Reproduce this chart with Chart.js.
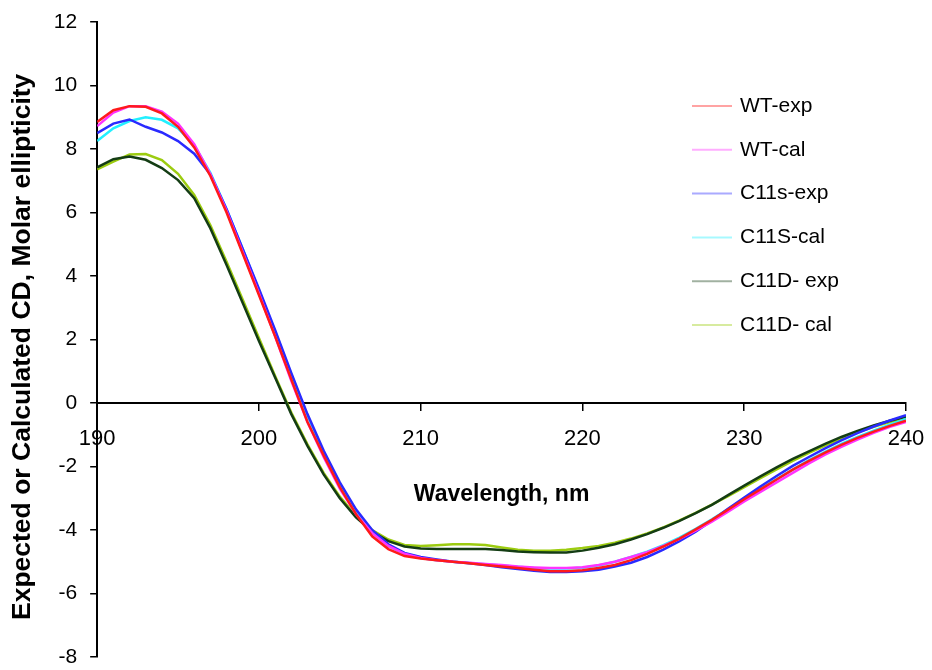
<!DOCTYPE html>
<html>
<head>
<meta charset="utf-8">
<script src="https://cdn.jsdelivr.net/npm/chart.js@4.4.1/dist/chart.umd.min.js"></script>
<style>
  html, body { margin: 0; padding: 0; background: #ffffff; }
  #wrap { width: 932px; height: 670px; position: relative; }
</style>
</head>
<body>
<div id="wrap"><canvas id="c" width="932" height="670"></canvas></div>
<script>
const wavelengths = [190,191,192,193,194,195,196,197,198,199,200,201,202,203,204,205,206,207,208,209,210,211,212,213,214,215,216,217,218,219,220,221,222,223,224,225,226,227,228,229,230,231,232,233,234,235,236,237,238,239,240];

const seriesNames = ["WT-exp", "WT-cal", "C11s-exp", "C11S-cal", "C11D- exp", "C11D- cal"];

const wtExp = [8.85,9.22,9.35,9.33,9.12,8.70,8.05,7.15,6.00,4.70,3.40,2.10,0.75,-0.60,-1.65,-2.65,-3.50,-4.20,-4.60,-4.82,-4.90,-4.95,-5.00,-5.05,-5.10,-5.15,-5.20,-5.25,-5.30,-5.30,-5.27,-5.20,-5.10,-4.95,-4.75,-4.52,-4.27,-3.98,-3.68,-3.36,-3.03,-2.72,-2.41,-2.10,-1.82,-1.56,-1.32,-1.10,-0.90,-0.72,-0.56];
const wtCal = [8.72,9.15,9.35,9.35,9.18,8.80,8.15,7.20,6.05,4.75,3.45,2.10,0.70,-0.60,-1.70,-2.70,-3.50,-4.10,-4.50,-4.75,-4.88,-4.95,-5.00,-5.03,-5.07,-5.10,-5.15,-5.18,-5.20,-5.20,-5.17,-5.10,-5.00,-4.85,-4.70,-4.50,-4.28,-4.02,-3.74,-3.42,-3.10,-2.80,-2.50,-2.20,-1.90,-1.63,-1.38,-1.15,-0.94,-0.75,-0.60];
const c11sExp = [8.50,8.80,8.93,8.70,8.52,8.25,7.85,7.20,6.10,4.85,3.60,2.30,0.95,-0.35,-1.50,-2.50,-3.35,-4.00,-4.45,-4.72,-4.85,-4.93,-5.00,-5.05,-5.10,-5.17,-5.23,-5.28,-5.32,-5.32,-5.30,-5.25,-5.15,-5.03,-4.85,-4.62,-4.35,-4.05,-3.70,-3.33,-2.98,-2.63,-2.30,-1.98,-1.70,-1.43,-1.18,-0.95,-0.74,-0.55,-0.38];
const c11sCal = [8.25,8.65,8.88,9.00,8.92,8.65,8.12,7.25,6.10,4.85,3.55,2.25,0.90,-0.40,-1.55,-2.55,-3.40,-4.05,-4.50,-4.75,-4.88,-4.95,-5.00,-5.04,-5.08,-5.12,-5.16,-5.20,-5.21,-5.21,-5.19,-5.12,-5.00,-4.85,-4.68,-4.48,-4.24,-3.96,-3.66,-3.34,-3.02,-2.70,-2.40,-2.10,-1.80,-1.54,-1.29,-1.07,-0.87,-0.68,-0.50];
const c11dExp = [7.42,7.68,7.76,7.66,7.40,7.02,6.45,5.50,4.35,3.15,1.95,0.80,-0.35,-1.35,-2.25,-3.00,-3.60,-4.05,-4.35,-4.52,-4.58,-4.60,-4.60,-4.60,-4.60,-4.63,-4.68,-4.70,-4.71,-4.71,-4.65,-4.56,-4.45,-4.30,-4.13,-3.93,-3.71,-3.47,-3.21,-2.90,-2.60,-2.31,-2.03,-1.76,-1.52,-1.29,-1.07,-0.88,-0.71,-0.56,-0.43];
const c11dCal = [7.36,7.60,7.83,7.84,7.65,7.22,6.55,5.60,4.45,3.25,2.05,0.85,-0.30,-1.30,-2.20,-2.95,-3.55,-4.00,-4.30,-4.47,-4.50,-4.48,-4.45,-4.45,-4.47,-4.55,-4.62,-4.65,-4.65,-4.62,-4.57,-4.50,-4.40,-4.27,-4.11,-3.92,-3.70,-3.46,-3.20,-2.93,-2.65,-2.37,-2.09,-1.82,-1.57,-1.34,-1.12,-0.92,-0.75,-0.60,-0.47];

const seriesValues = [wtExp, wtCal, c11sExp, c11sCal, c11dExp, c11dCal];
const seriesColors = ["#ff1a1a", "#ff33ff", "#2a2aff", "#22f0ff", "#143d14", "#9ccc10"];

const xTicks = [190, 200, 210, 220, 230, 240];
const yTicks = [-8, -6, -4, -2, 0, 2, 4, 6, 8, 10, 12];

const datasets = seriesNames.map((name, i) => ({
  label: name,
  data: wavelengths.map((w, j) => ({ x: w, y: seriesValues[i][j] })),
  borderColor: seriesColors[i],
  backgroundColor: seriesColors[i],
  borderWidth: 2.5,
  pointRadius: 0,
  tension: 0,
  fill: false
}));

const legendPlugin = {
  id: 'insideLegend',
  afterDraw(chart) {
    const ctx = chart.ctx;
    ctx.save();
    ctx.font = '21px "Liberation Sans", Arial, sans-serif';
    ctx.textBaseline = 'middle';
    ctx.textAlign = 'left';
    chart.data.datasets.forEach((ds, i) => {
      const y = 106 + i * 43.8;
      ctx.globalAlpha = 0.4;
      ctx.strokeStyle = ds.borderColor;
      ctx.lineWidth = 2;
      ctx.beginPath();
      ctx.moveTo(692, y);
      ctx.lineTo(732, y);
      ctx.stroke();
      ctx.globalAlpha = 1;
      ctx.fillStyle = '#000000';
      ctx.fillText(ds.label, 740, y);
    });
    ctx.restore();
  }
};

const noEdgePadding = (s) => { s.paddingTop = 0; s.paddingBottom = 0; s.paddingLeft = 0; s.paddingRight = 0; };

new Chart(document.getElementById('c'), {
  type: 'line',
  data: { datasets },
  plugins: [legendPlugin],
  options: {
    responsive: false,
    animation: false,
    layout: { padding: { left: 2, right: 26, top: 22, bottom: 13 } },
    plugins: { legend: { display: false }, tooltip: { enabled: false } },
    scales: {
      x: {
        type: 'linear',
        position: { y: 0 },
        min: 190, max: 240,
        afterBuildTicks: (axis) => { axis.ticks = xTicks.map(v => ({ value: v })); },
        afterFit: noEdgePadding,
        ticks: {
          color: '#000',
          font: { family: '"Liberation Sans", Arial, sans-serif', size: 22 },
          padding: 16,
          maxRotation: 0,
          autoSkip: false
        },
        grid: { drawOnChartArea: false, drawTicks: true, tickLength: 7, color: '#000', lineWidth: 1.5 },
        border: { display: true, color: '#000', width: 2 },
        title: {
          display: true,
          text: 'Wavelength, nm',
          color: '#000',
          font: { family: '"Liberation Sans", Arial, sans-serif', size: 23, weight: 'bold' },
          padding: { top: 12, bottom: 0 }
        }
      },
      y: {
        type: 'linear',
        min: -8, max: 12,
        afterBuildTicks: (axis) => { axis.ticks = yTicks.map(v => ({ value: v })); },
        afterFit: noEdgePadding,
        ticks: {
          color: '#000',
          font: { family: '"Liberation Sans", Arial, sans-serif', size: 21 },
          padding: 13
        },
        grid: { drawOnChartArea: false, drawTicks: true, tickLength: 7, color: '#000', lineWidth: 1.5 },
        border: { display: true, color: '#000', width: 2 },
        title: {
          display: true,
          text: 'Expected or Calculated CD, Molar ellipticity  ',
          color: '#000',
          font: { family: '"Liberation Sans", Arial, sans-serif', size: 26.5, weight: 'bold' },
          padding: { top: 5, bottom: 2 }
        }
      }
    }
  }
});
</script>
</body>
</html>
